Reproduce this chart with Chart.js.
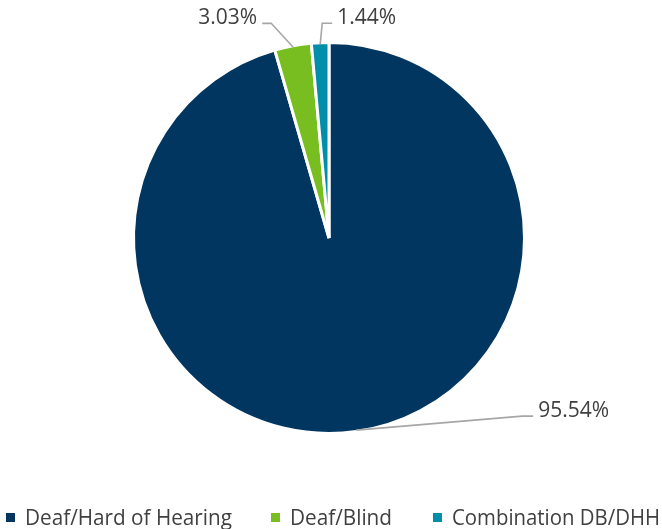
<!DOCTYPE html>
<html>
<head>
<meta charset="utf-8">
<script src="https://cdn.jsdelivr.net/npm/chart.js@4.4.1/dist/chart.umd.min.js"></script>
<style>
  html, body { margin: 0; padding: 0; background: #ffffff; }
  #wrap { position: relative; width: 662px; height: 529px; }
</style>
</head>
<body>
<div id="wrap"><canvas id="c" width="662" height="529"></canvas></div>
<script>
const categories = ["Deaf/Hard of Hearing", "Deaf/Blind", "Combination DB/DHH"];
const values = [95.54, 3.03, 1.44];
const valueLabels = ["95.54%", "3.03%", "1.44%"];
const colors = ["#00365f", "#78be20", "#008eaa"];

const FONT = "'Open Sans', sans-serif";

const leaderPlugin = {
  id: 'leaderLabels',
  afterDatasetsDraw(chart, args, opts) {
    const ctx = chart.ctx;
    const meta = chart.getDatasetMeta(0);
    ctx.save();
    meta.data.forEach((arc, i) => {
      const p = arc.getProps(['x', 'y', 'startAngle', 'endAngle', 'outerRadius'], true);
      const mid = (p.startAngle + p.endAngle) / 2;
      const r = p.outerRadius - 1.5;
      const ex = p.x + Math.cos(mid) * r;
      const ey = p.y + Math.sin(mid) * r;
      const L = opts.layout[i];
      const bx = ex + L.elbow[0], by = ey + L.elbow[1];
      const tx = bx + L.tail, ty = by;
      ctx.strokeStyle = '#a6a6a6';
      ctx.lineWidth = 1.6;
      ctx.beginPath();
      ctx.moveTo(ex, ey);
      ctx.lineTo(bx, by);
      ctx.lineTo(tx, ty);
      ctx.stroke();
      ctx.fillStyle = '#404040';
      ctx.font = '21px ' + FONT;
      ctx.textBaseline = 'alphabetic';
      ctx.textAlign = L.tail < 0 ? 'right' : 'left';
      ctx.fillText(valueLabels[i], tx + (L.tail < 0 ? -5 : 5), ty + L.dy);
    });
    ctx.restore();
  }
};

const legendPlugin = {
  id: 'bottomLegend',
  afterDraw(chart, args, opts) {
    const ctx = chart.ctx;
    ctx.save();
    ctx.font = '21px ' + FONT;
    ctx.textBaseline = 'alphabetic';
    ctx.textAlign = 'left';
    categories.forEach((c, i) => {
      const x = opts.xs[i];
      ctx.fillStyle = colors[i];
      ctx.fillRect(x, opts.y - 12, 9, 9);
      ctx.fillStyle = '#404040';
      ctx.fillText(c, x + 19, opts.y, opts.maxW[i]);
    });
    ctx.restore();
  }
};

new Chart(document.getElementById('c'), {
  type: 'pie',
  data: {
    labels: categories,
    datasets: [{
      data: values,
      backgroundColor: colors,
      borderColor: '#ffffff',
      borderWidth: 3
    }]
  },
  options: {
    responsive: false,
    animation: false,
    rotation: 0,
    layout: { padding: { left: 132, right: 136, top: 41, bottom: 94 } },
    plugins: {
      legend: { display: false },
      tooltip: { enabled: false },
      leaderLabels: {
        layout: [
          { elbow: [166, -14], tail: 11, dy: 1 },
          { elbow: [-22, -24], tail: -9, dy: 1 },
          { elbow: [2, -21], tail: 10, dy: 1 }
        ]
      },
      bottomLegend: { xs: [6, 271, 433], y: 525, maxW: [207, 102, 208] }
    }
  },
  plugins: [leaderPlugin, legendPlugin]
});
</script>
</body>
</html>
